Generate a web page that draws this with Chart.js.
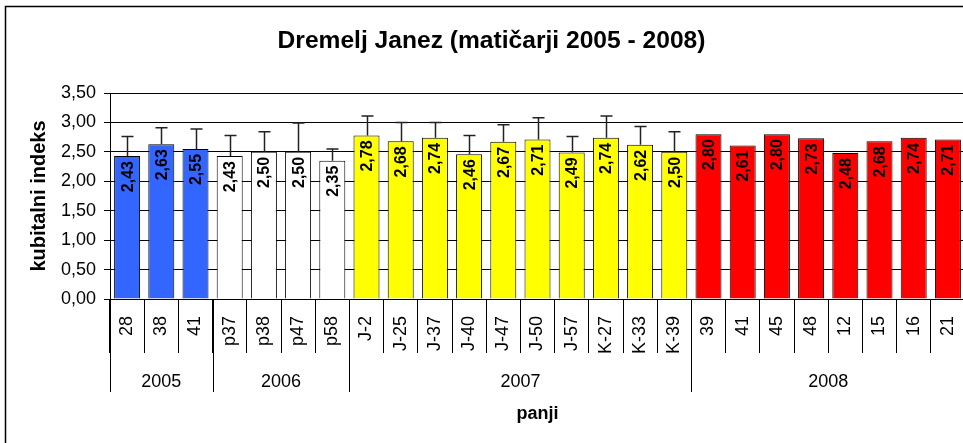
<!DOCTYPE html>
<html>
<head>
<meta charset="utf-8">
<script src="https://cdn.jsdelivr.net/npm/chart.js@4/dist/chart.umd.min.js"></script>
<style>
  html, body { margin: 0; padding: 0; background: #fff; overflow: hidden; }
  canvas { display: block; }
</style>
</head>
<body>
<canvas id="chart" width="985" height="443"></canvas>
<script>
// panji (hive labels) and the years they belong to
const labels = ["28", "38", "41", "p37", "p38", "p47", "p58",
  "J-2", "J-25", "J-37", "J-40", "J-47", "J-50", "J-57", "K-27", "K-33", "K-39",
  "39", "41", "45", "48", "12", "15", "16", "21"];
const years = ["2005", "2006", "2007", "2008"];
const yearCounts = [3, 4, 10, 8];
const yearColors = ["#3366FF", "#FFFFFF", "#FFFF00", "#FF0000"];

// kubitalni indeks (mean) and plus error
const values = [2.43, 2.63, 2.55, 2.43, 2.50, 2.50, 2.35,
  2.78, 2.68, 2.74, 2.46, 2.67, 2.71, 2.49, 2.74, 2.62, 2.50,
  2.80, 2.61, 2.80, 2.73, 2.48, 2.68, 2.74, 2.71];
const errors = [0.33, 0.28, 0.34, 0.35, 0.34, 0.49, 0.20,
  0.33, 0.32, 0.26, 0.32, 0.29, 0.37, 0.27, 0.37, 0.31, 0.34,
  0, 0, 0, 0, 0, 0, 0, 0];

const FONT = "'Liberation Sans', Arial, sans-serif";
const fmt = (v) => v.toFixed(2).replace(".", ",");

const barColors = [];
years.forEach((y, i) => {
  for (let k = 0; k < yearCounts[i]; k++) barColors.push(yearColors[i]);
});

const decorPlugin = {
  id: "decor",
  beforeDraw(chart) {
    const ctx = chart.ctx;
    ctx.save();
    ctx.strokeStyle = "#000";
    ctx.lineWidth = 1.5;
    ctx.strokeRect(5.5, 6.5, 2000, 2000);
    ctx.restore();
  },
  afterDatasetsDraw(chart) {
    const ctx = chart.ctx;
    const yScale = chart.scales.y;
    const xScale = chart.scales.x;
    const meta = chart.getDatasetMeta(0);
    ctx.save();

    // error bars
    ctx.strokeStyle = "#222";
    ctx.lineWidth = 1.5;
    meta.data.forEach((bar, i) => {
      if (!errors[i]) return;
      const x = Math.round(bar.x) + 0.5;
      const y1 = yScale.getPixelForValue(values[i]);
      const y2 = yScale.getPixelForValue(values[i] + errors[i]);
      ctx.beginPath();
      ctx.moveTo(x, y1);
      ctx.lineTo(x, y2);
      ctx.moveTo(x - 6, y2);
      ctx.lineTo(x + 6, y2);
      ctx.stroke();
    });

    // value labels inside bars
    ctx.fillStyle = "#000";
    ctx.font = "bold 16px " + FONT;
    ctx.textAlign = "right";
    ctx.textBaseline = "middle";
    meta.data.forEach((bar, i) => {
      ctx.save();
      ctx.translate(bar.x + 1, bar.y + 5);
      ctx.rotate(-Math.PI / 2);
      ctx.fillText(fmt(values[i]), 0, 0);
      ctx.restore();
    });

    // year grouping row
    const bottom = chart.chartArea.bottom;
    const half = (xScale.getPixelForValue(1) - xScale.getPixelForValue(0)) / 2;
    ctx.strokeStyle = "#000";
    ctx.lineWidth = 1;
    ctx.font = "18px " + FONT;
    ctx.textAlign = "center";
    let start = 0;
    years.forEach((yr, i) => {
      const left = xScale.getPixelForValue(start) - half;
      const right = xScale.getPixelForValue(start + yearCounts[i] - 1) + half;
      const lx = Math.round(left) + 0.5;
      ctx.beginPath();
      ctx.moveTo(lx, bottom);
      ctx.lineTo(lx, bottom + 93);
      ctx.stroke();
      ctx.fillText(yr, (left + right) / 2, bottom + 83);
      start += yearCounts[i];
    });
    ctx.restore();
  },
};

new Chart(document.getElementById("chart"), {
  type: "bar",
  data: {
    labels: labels,
    datasets: [
      {
        data: values,
        backgroundColor: barColors,
        borderColor: "#000",
        borderWidth: 1,
        categoryPercentage: 1,
        barPercentage: 0.76,
      },
    ],
  },
  options: {
    responsive: false,
    animation: false,
    layout: { padding: { left: 18, right: 20, top: 0, bottom: 0 } },
    plugins: {
      legend: { display: false },
      tooltip: { enabled: false },
      title: {
        display: true,
        text: "Dremelj Janez (matičarji 2005 - 2008)",
        color: "#000",
        font: { family: FONT, size: 24.6, weight: "bold" },
        padding: { top: 26, bottom: 37.5 },
      },
    },
    scales: {
      y: {
        min: 0,
        max: 3.5,
        afterFit: (s) => { s.width = 92; },
        ticks: {
          stepSize: 0.5,
          color: "#000",
          padding: 8,
          font: { family: FONT, size: 18 },
          callback: (v) => fmt(v),
        },
        grid: { color: "#000", tickLength: 6 },
        border: { color: "#000" },
        title: {
          display: true,
          text: "kubitalni indeks",
          color: "#000",
          font: { family: FONT, size: 20, weight: "bold" },
          padding: { top: 9 },
        },
      },
      x: {
        afterFit: (s) => { s.height = 144; },
        ticks: {
          color: "#000",
          autoSkip: false,
          maxRotation: 90,
          minRotation: 90,
          padding: -37,
          font: { family: FONT, size: 18 },
        },
        grid: { color: "#000", drawOnChartArea: false, tickLength: 54, offset: true },
        border: { color: "#000" },
        title: {
          display: true,
          text: "panji",
          color: "#000",
          font: { family: FONT, size: 18, weight: "bold" },
          padding: { bottom: 18 },
        },
      },
    },
  },
  plugins: [decorPlugin],
});
</script>
</body>
</html>
